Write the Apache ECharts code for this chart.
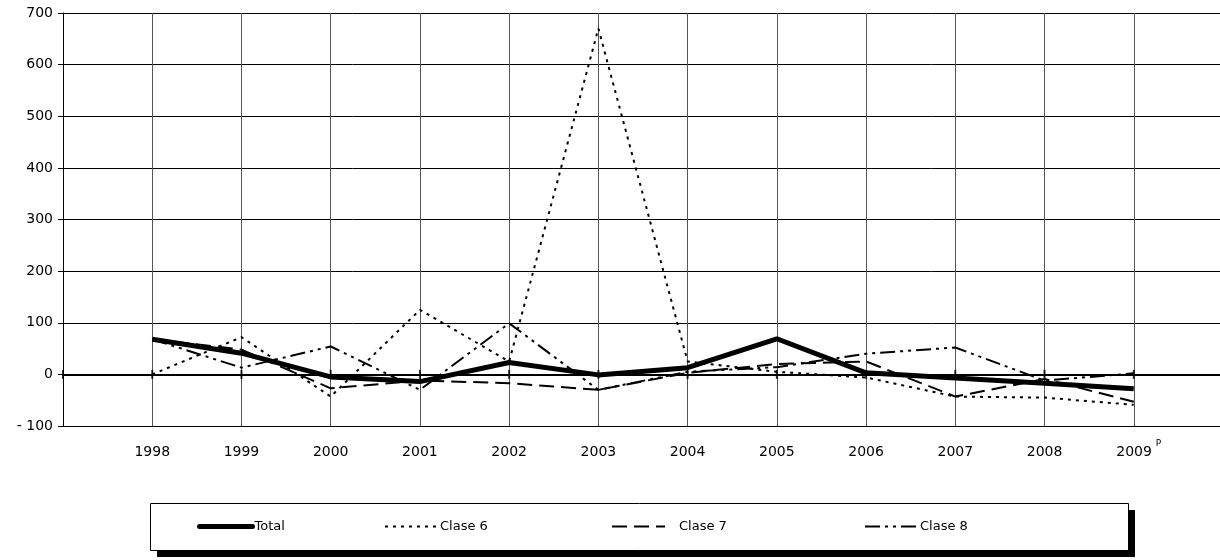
<!DOCTYPE html>
<html>
<head>
<meta charset="utf-8">
<script src="https://cdn.jsdelivr.net/npm/echarts@6/dist/echarts.min.js"></script>
<style>
html,body{margin:0;padding:0;background:#fff;}
#chart{width:1220px;height:560px;}
</style>
</head>
<body>
<div id="chart"></div>
<script>
// ---- data ----
const years = [1998, 1999, 2000, 2001, 2002, 2003, 2004, 2005, 2006, 2007, 2008, 2009];
const total = [68, 41, -5, -14, 23, -1, 13, 69, 3, -7, -17, -28];
const clase6 = [0, 72, -43, 125, 25, 670, 25, 5, -6, -43, -45, -59];
const clase7 = [68, 48, -27, -12, -17, -30, 3, 20, 25, -43, -9, -53];
const clase8 = [68, 13, 54, -30, 99, -30, 5, 14, 40, 52, -12, 2];
const seriesNames = ['Total', 'Clase 6', 'Clase 7', 'Clase 8'];
const provisionalYear = 2009;
const yTicks = { min: -100, max: 700, step: 100 };
const xRange = { min: 1997, max: 2010 };

const AXFONT = 'DejaVu Sans, sans-serif';
const LGFONT = 'DejaVu Sans, sans-serif';
const pairs = arr => years.map((y, i) => [y, arr[i]]);
const tickYears = [xRange.min].concat(years);

const styles = {
  'Total':   { width: 5, type: 'solid' },
  'Clase 6': { width: 2, type: [3, 5] },
  'Clase 7': { width: 2, type: [15, 7] },
  'Clase 8': { width: 2, type: [15, 5, 3, 5, 3, 5] }
};

const chart = echarts.init(document.getElementById('chart'), null, { renderer: 'canvas' });

function legendAt(name, left, textPadLeft) {
  return {
    data: [name], left: left, top: 520, padding: 0, itemWidth: 53, itemHeight: 14, itemGap: 0,
    textStyle: { fontFamily: LGFONT, fontSize: 13, color: '#000', padding: [0, 0, 0, textPadLeft] },
    itemStyle: { color: 'transparent', borderColor: 'transparent', borderWidth: 0, opacity: 0 },
    lineStyle: { color: '#000', width: styles[name].width, type: styles[name].type, cap: name === 'Total' ? 'round' : 'butt' },
    z: 10, selectedMode: false
  };
}

function lineSeries(name, data, z) {
  return {
    name: name, type: 'line', data: pairs(data), symbol: 'none', z: z,
    lineStyle: { color: '#000', width: styles[name].width, type: styles[name].type },
    itemStyle: { color: '#000' }
  };
}

const option = {
  animation: false,
  backgroundColor: '#fff',
  grid: { left: 63, top: 13, width: 1160, height: 413, containLabel: false, outerBoundsMode: 'none' },
  xAxis: [
    {
      type: 'value', min: xRange.min, max: xRange.max, interval: 1,
      position: 'bottom',
      axisLine: { show: true, onZero: false, lineStyle: { color: '#000', width: 1 } },
      axisTick: { show: false },
      splitLine: { show: true, lineStyle: { color: '#555', width: 1 } },
      axisLabel: {
        margin: 13, color: '#000',
        formatter: v => {
          if (v < years[0] || v > years[years.length - 1]) return '';
          if (v === provisionalYear) return '{pad|}{a|' + v + '}{p|P}';
          return '{a|' + v + '}';
        },
        rich: {
          a: { fontFamily: AXFONT, fontSize: 14, color: '#000', lineHeight: 26, verticalAlign: 'middle' },
          pad: { width: 10, lineHeight: 26 },
          p: { fontFamily: AXFONT, fontSize: 9, color: '#000', lineHeight: 12, verticalAlign: 'top', padding: [0, 0, 0, 4] }
        }
      }
    },
    {
      type: 'value', min: xRange.min, max: xRange.max, interval: 1,
      position: 'top',
      axisLine: { show: true, onZero: true, lineStyle: { color: '#000', width: 2 } },
      axisTick: { show: false },
      axisLabel: { show: false },
      splitLine: { show: false }
    }
  ],
  yAxis: {
    type: 'value', min: yTicks.min, max: yTicks.max, interval: yTicks.step,
    axisLine: { show: true, onZero: false, lineStyle: { color: '#000', width: 1 } },
    axisTick: { show: true, inside: false, length: 5, lineStyle: { color: '#000' } },
    splitLine: { show: true, lineStyle: { color: '#000', width: 1 } },
    axisLabel: {
      margin: 10, fontFamily: AXFONT, fontSize: 14, color: '#000',
      formatter: v => (v < 0 ? '- ' + Math.abs(v) : String(v))
    }
  },
  legend: [
    legendAt(seriesNames[0], 197, -3),
    legendAt(seriesNames[1], 384, -3),
    legendAt(seriesNames[2], 611, 9),
    legendAt(seriesNames[3], 864, -3)
  ],
  graphic: [
    {
      type: 'rect', left: 157, top: 510, z: 0,
      shape: { width: 978, height: 47 },
      style: { fill: '#000' }
    },
    {
      type: 'rect', left: 150, top: 503, z: 1,
      shape: { width: 978, height: 47 },
      style: { fill: '#fff', stroke: '#000', lineWidth: 1 }
    }
  ],
  series: [
    lineSeries(seriesNames[1], clase6, 3),
    lineSeries(seriesNames[2], clase7, 3),
    lineSeries(seriesNames[3], clase8, 3),
    lineSeries(seriesNames[0], total, 4),
    {
      name: 'ticks', type: 'scatter', silent: true, z: 5,
      data: tickYears.map(y => [y, 0]),
      symbol: 'rect', symbolSize: [2, 9], itemStyle: { color: '#000' }
    }
  ]
};
chart.setOption(option);
</script>
</body>
</html>
